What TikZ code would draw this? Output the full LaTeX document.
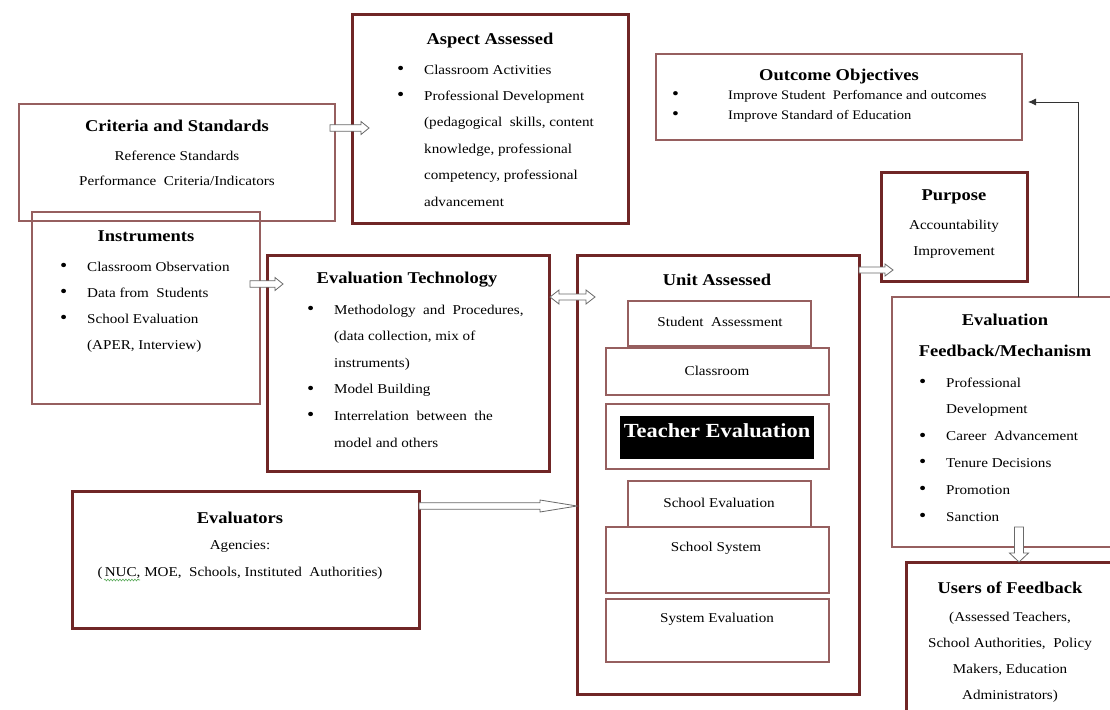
\documentclass[tikz,border=0pt]{standalone}
\usepackage{fontspec}
\setmainfont{Liberation Serif}[FakeStretch=1.12]
\usetikzlibrary{calc,arrows.meta,decorations.pathmorphing}
\definecolor{thickc}{RGB}{112,38,38}
\definecolor{thinc}{RGB}{150,95,95}
\definecolor{arrc}{RGB}{105,105,105}
\definecolor{squig}{RGB}{90,170,90}
\newcommand\mybul[1]{\makebox[#1][l]{\raisebox{-0.4pt}{\scalebox{1.35}{\textbullet}}}}
\tikzset{
  bx/.style={draw=thinc, line width=1.1pt, inner sep=0pt, outer sep=0pt, anchor=north west},
  tbx/.style={draw=thickc, line width=3pt, inner sep=0pt, outer sep=0pt, anchor=north west},
  ttl/.style={font=\fontsize{16.5}{20}\selectfont\bfseries, inner sep=0pt, anchor=base},
  tx/.style={font=\fontsize{13.5}{26}\selectfont, inner sep=0pt, anchor=base, align=center},
  ls/.style={font=\fontsize{13.5}{#1}\selectfont, inner sep=0pt, anchor=base west, align=left},
  arr/.style={draw=arrc, fill=white, line width=0.8pt},
  ashaft/.store in=\ashaft, ahead/.store in=\ahead, ahlen/.store in=\ahlen,
  ashaft=3pt, ahead=6pt, ahlen=8pt,
  toR/.style={to path={let \p1=(\tikztostart), \p2=(\tikztotarget) in
    (\x1,\y1+\ashaft) -- (\x2-\ahlen,\y1+\ashaft) -- (\x2-\ahlen,\y1+\ahead) -- (\x2,\y1)
    -- (\x2-\ahlen,\y1-\ahead) -- (\x2-\ahlen,\y1-\ashaft) -- (\x1,\y1-\ashaft) -- cycle}},
  toLR/.style={to path={let \p1=(\tikztostart), \p2=(\tikztotarget) in
    (\x1,\y1) -- (\x1+\ahlen,\y1+\ahead) -- (\x1+\ahlen,\y1+\ashaft) -- (\x2-\ahlen,\y1+\ashaft)
    -- (\x2-\ahlen,\y1+\ahead) -- (\x2,\y1) -- (\x2-\ahlen,\y1-\ahead) -- (\x2-\ahlen,\y1-\ashaft)
    -- (\x1+\ahlen,\y1-\ashaft) -- (\x1+\ahlen,\y1-\ahead) -- cycle}},
  toD/.style={to path={let \p1=(\tikztostart), \p2=(\tikztotarget) in
    (\x1-\ashaft,\y1) -- (\x1-\ashaft,\y2+\ahlen) -- (\x1-\ahead,\y2+\ahlen) -- (\x1,\y2)
    -- (\x1+\ahead,\y2+\ahlen) -- (\x1+\ashaft,\y2+\ahlen) -- (\x1+\ashaft,\y1) -- cycle}},
}
\begin{document}
\begin{tikzpicture}[x=1pt,y=-1pt]
\useasboundingbox (0,0) rectangle (1110,709);
% boxes
\node[bx, minimum width=316pt, minimum height=117pt] (crit) at (19,104) {};
\node[bx, minimum width=228pt, minimum height=192pt] (instr) at (32,212) {};
\node[tbx, minimum width=276pt, minimum height=208pt] (aspect) at (352,15) {};
\node[bx, minimum width=366pt, minimum height=86pt] (outcome) at (656,54) {};
\node[tbx, minimum width=146pt, minimum height=109pt] (purpose) at (881,172) {};
\node[tbx, minimum width=282pt, minimum height=216pt] (tech) at (267,255) {};
\node[tbx, minimum width=282pt, minimum height=439pt] (unit) at (577,255) {};
\node[bx, minimum width=183pt, minimum height=45pt] (sa) at (628,301) {};
\node[bx, minimum width=223pt, minimum height=47pt] (cls) at (606,348) {};
\node[bx, minimum width=223pt, minimum height=65pt] (te) at (606,404) {};
\node[fill=black, inner sep=0pt, outer sep=0pt, anchor=north west, minimum width=194pt, minimum height=43pt] (teb) at (620,416) {};
\node[bx, minimum width=183pt, minimum height=46pt] (se) at (628,481) {};
\node[bx, minimum width=223pt, minimum height=66pt] (ss) at (606,527) {};
\node[bx, minimum width=223pt, minimum height=63pt] (sys) at (606,599) {};
\node[bx, minimum width=240pt, minimum height=250pt] (fb) at (892,297) {};
\node[tbx, minimum width=230pt, minimum height=170pt] (users) at (906,562) {};
\node[tbx, minimum width=347pt, minimum height=137pt] (eval) at (72,491) {};
% texts (multi-line nodes are placed by the baseline of their last line)
\node[ttl] (critT) at (177,131) {Criteria and Standards};
\node[tx, font=\fontsize{13.5}{25}\selectfont] (critL) at (177,185) {Reference Standards\\Performance\ \ Criteria/Indicators};
\node[ttl] (aspT) at (490,45) {Aspect Assessed};
\node[ls=26.4] (aspL) at (397,206) {\mybul{27pt}Classroom Activities\\
  \mybul{27pt}Professional Development\\
  \hspace*{27pt}(pedagogical\ \ skills, content\\
  \hspace*{27pt}knowledge, professional\\
  \hspace*{27pt}competency, professional\\
  \hspace*{27pt}advancement};
\node[ttl] (outT) at (839,81) {Outcome Objectives};
\node[ls=19.5, font=\fontsize{13}{19.5}\selectfont] (outL) at (672,119) {\mybul{56pt}Improve Student\ \ Perfomance and outcomes\\
  \mybul{56pt}Improve Standard of Education};
\node[ttl] (purT) at (954,200) {Purpose};
\node[tx] (purL) at (954,255) {Accountability\\Improvement};
\node[ttl] (insT) at (146,241) {Instruments};
\node[ls=26] (insL) at (60,349) {\mybul{27pt}Classroom Observation\\
  \mybul{27pt}Data from\ \ Students\\
  \mybul{27pt}School Evaluation\\
  \hspace*{27pt}(APER, Interview)};
\node[ttl] (techT) at (407,283) {Evaluation Technology};
\node[ls=26.6] (techL) at (307,447) {\mybul{27pt}Methodology\ \ and\ \ Procedures,\\
  \hspace*{27pt}(data collection, mix of\\
  \hspace*{27pt}instruments)\\
  \mybul{27pt}Model Building\\
  \mybul{27pt}Interrelation\ \ between\ \ the\\
  \hspace*{27pt}model and others};
\node[ttl] (unitT) at (717,285) {Unit Assessed};
\node[tx] (saT) at (720,326) {Student\ \ Assessment};
\node[tx] (clsT) at (717,375) {Classroom};
\node[ttl, font=\fontsize{20}{24}\selectfont\bfseries, text=white] (teT) at (717,437) {Teacher Evaluation};
\node[tx] (seT) at (719,507) {School Evaluation};
\node[tx] (ssT) at (716,551) {School System};
\node[tx] (sysT) at (717,622) {System Evaluation};
\node[ttl, align=center, font=\fontsize{16.5}{31}\selectfont\bfseries] (fbT) at (1005,356) {Evaluation\\Feedback/Mechanism};
\node[ls=26.8] (fbL) at (919,521) {\mybul{27pt}Professional\\
  \hspace*{27pt}Development\\
  \mybul{27pt}Career\ \ Advancement\\
  \mybul{27pt}Tenure Decisions\\
  \mybul{27pt}Promotion\\
  \mybul{27pt}Sanction};
\node[ttl] (usrT) at (1010,593) {Users of Feedback};
\node[tx, font=\fontsize{13.5}{26}\selectfont] (usrL) at (1010,699) {(Assessed Teachers,\\School Authorities,\ \ Policy\\Makers, Education\\Administrators)};
\node[ttl] (evT) at (240,523) {Evaluators};
\node[tx, font=\fontsize{13.5}{27}\selectfont] (evL) at (240,576) {Agencies:\\(\,NUC, MOE,\ \ Schools, Instituted\ \ Authorities)};
\draw[squig, line width=0.6pt, decorate, decoration={snake, amplitude=0.9pt, segment length=3pt}] (104,580) -- (140,580);
% connectors
\draw[arr, toR, ashaft=3.2pt, ahead=6.5pt, ahlen=8pt] ($(crit.north east)+(-5,24)$) to ($(aspect.north west)+(17,113)$);
\draw[arr, toR, ashaft=3.2pt, ahead=6.5pt, ahlen=8pt] ($(instr.north east)+(-10,72)$) to ($(tech.north west)+(16,29)$);
\draw[arr, toLR, ashaft=3pt, ahead=7pt, ahlen=9pt] ($(tech.north east)+(1,42)$) to ($(unit.north west)+(18,42)$);
\draw[arr, toR, ashaft=3pt, ahead=6pt, ahlen=8pt] ($(unit.north east)+(0,15)$) to ($(purpose.north west)+(12,98)$);
\draw[arr, toR, ashaft=3.3pt, ahead=6pt, ahlen=37pt] ($(eval.north east)+(0,15)$) to ($(unit.north west)+(0,251)$);
\draw[arr, toD, ashaft=4.5pt, ahead=9.5pt, ahlen=9pt] ($(fb.south west)+(127,-20)$) to ($(users.north west)+(113,0)$);
\draw[black!80, line width=0.8pt, -{Latex[length=8pt,width=7pt]}] ($(fb.north west)+(186,0)$) |- ($(outcome.north east)+(6,48)$);
\end{tikzpicture}
\end{document}
